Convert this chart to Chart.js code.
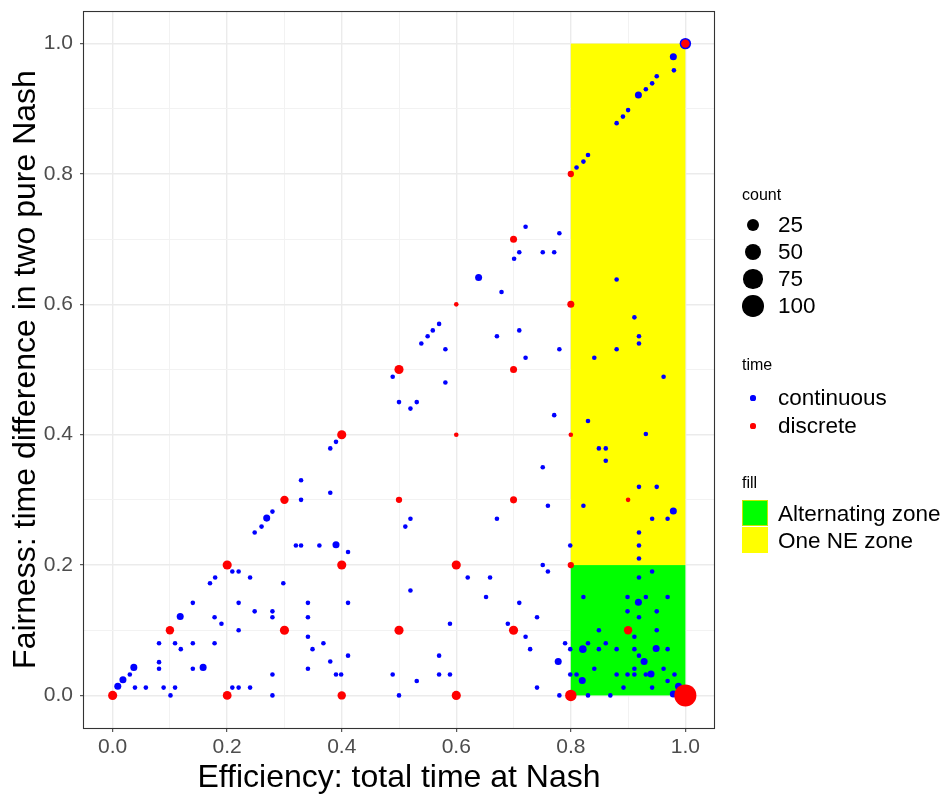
<!DOCTYPE html>
<html><head><meta charset="utf-8">
<script src="https://cdn.jsdelivr.net/npm/chart.js@4/dist/chart.umd.min.js"></script>
<style>
html,body{margin:0;padding:0;background:#fff;}
#wrap{position:relative;width:948px;height:798px;font-family:"Liberation Sans",Arial,sans-serif;overflow:hidden;}
canvas{position:absolute;left:0;top:0;}
.lg{position:absolute;white-space:nowrap;color:#000;height:30px;line-height:30px;}
.lt{font-size:16px;}
.ll{font-size:22.5px;}
.dot{position:absolute;border-radius:50%;}
.key{position:absolute;box-sizing:border-box;}
</style></head><body>
<div id="wrap"><canvas id="c" width="948" height="798"></canvas><div id="legend"></div></div>
<script>
// ---------------- data ----------------
// [efficiency, fairness, count]
const continuousPoints = [
  [0.009,0.014,3],[0.018,0.024,3],[0.030,0.032,1],[0.037,0.043,3],[0.039,0.012,1],[0.058,0.012,1],
  [0.081,0.041,1],[0.081,0.051,1],[0.081,0.080,1],[0.089,0.012,1],[0.101,0.000,1],[0.109,0.012,1],
  [0.109,0.080,1],[0.119,0.071,1],[0.118,0.121,3],[0.140,0.080,1],[0.140,0.041,1],[0.158,0.043,3],
  [0.140,0.142,1],[0.178,0.120,1],[0.178,0.080,1],[0.190,0.110,1],[0.170,0.172,1],[0.179,0.181,1],
  [0.209,0.190,1],[0.220,0.190,1],[0.240,0.181,1],[0.220,0.142,1],[0.248,0.129,1],[0.279,0.129,1],
  [0.279,0.120,1],[0.220,0.100,1],[0.209,0.012,1],[0.220,0.012,1],[0.240,0.012,1],[0.279,0.032,1],
  [0.279,0.000,1],[0.298,0.172,1],
  [0.248,0.250,1],[0.260,0.259,1],[0.269,0.272,3],[0.279,0.282,1],
  [0.320,0.230,1],[0.329,0.230,1],[0.361,0.230,1],[0.390,0.231,3],[0.411,0.220,1],[0.620,0.181,1],
  [0.652,0.151,1],[0.520,0.161,1],[0.341,0.142,1],[0.411,0.142,1],[0.341,0.120,1],[0.341,0.090,1],
  [0.368,0.080,1],[0.349,0.071,1],[0.411,0.061,1],[0.380,0.052,1],[0.341,0.041,1],[0.390,0.032,1],
  [0.399,0.032,1],[0.489,0.032,1],[0.531,0.022,1],[0.570,0.032,1],[0.589,0.032,1],[0.570,0.061,1],
  [0.589,0.110,1],[0.500,0.000,1],
  [0.570,0.570,1],[0.559,0.560,1],[0.550,0.551,1],[0.539,0.540,1],[0.581,0.531,1],[0.581,0.480,1],
  [0.489,0.489,1],[0.500,0.450,1],[0.531,0.450,1],[0.520,0.440,1],[0.390,0.389,1],[0.380,0.379,1],
  [0.329,0.330,1],[0.329,0.300,1],[0.380,0.311,1],[0.520,0.271,1],[0.511,0.259,1],
  [0.799,0.230,1],[0.919,0.230,1],[0.919,0.210,1],[0.751,0.200,1],[0.760,0.190,1],[0.659,0.181,1],
  [0.710,0.142,1],[0.741,0.120,1],[0.690,0.110,1],[0.721,0.090,1],[0.729,0.071,1],[0.778,0.052,3],
  [0.790,0.080,1],[0.741,0.012,1],[0.780,0.000,1],[0.799,0.071,1],[0.799,0.032,1],[0.810,0.032,1],
  [0.820,0.023,3],[0.821,0.071,4],[0.830,0.080,1],[0.822,0.151,1],[0.841,0.041,1],[0.849,0.100,1],
  [0.849,0.071,1],[0.861,0.080,1],[0.830,0.000,1],[0.869,0.000,1],[0.880,0.071,1],[0.880,0.032,1],
  [0.892,0.012,1],[0.899,0.032,1],[0.899,0.129,1],[0.899,0.151,1],[0.911,0.090,1],[0.911,0.071,1],
  [0.911,0.041,1],[0.911,0.032,1],[0.919,0.061,1],[0.918,0.143,3],[0.919,0.120,1],[0.919,0.181,1],
  [0.931,0.151,1],[0.928,0.052,3],[0.931,0.032,1],[0.940,0.033,3],[0.942,0.012,1],[0.942,0.190,1],
  [0.950,0.129,1],[0.950,0.100,1],[0.949,0.072,3],[0.962,0.041,1],[0.969,0.071,1],[0.969,0.151,1],
  [0.969,0.022,1],[0.981,0.032,1],[0.979,0.002,3],[0.988,0.014,3],
  [0.721,0.719,1],[0.780,0.709,1],[0.710,0.680,1],[0.751,0.680,1],[0.771,0.680,1],[0.701,0.670,1],
  [0.639,0.641,3],[0.679,0.619,1],[0.880,0.638,1],[0.911,0.580,1],[0.919,0.551,1],[0.919,0.540,1],
  [0.880,0.531,1],[0.841,0.518,1],[0.710,0.560,1],[0.671,0.551,1],[0.780,0.531,1],[0.721,0.518,1],
  [0.962,0.489,1],[0.771,0.430,1],[0.830,0.421,1],[0.931,0.401,1],[0.849,0.379,1],[0.861,0.379,1],
  [0.861,0.360,1],[0.751,0.350,1],[0.919,0.320,1],[0.950,0.320,1],[0.760,0.291,1],[0.822,0.291,1],
  [0.979,0.283,3],[0.942,0.271,1],[0.969,0.271,1],[0.671,0.271,1],[0.919,0.250,1],
  [1.000,1.000,17],[0.979,0.980,3],[0.980,0.959,1],[0.950,0.950,1],[0.942,0.939,1],[0.931,0.930,1],
  [0.918,0.921,3],[0.900,0.898,1],[0.891,0.888,1],[0.880,0.878,1],[0.830,0.829,1],[0.822,0.819,1],
  [0.810,0.810,1]
];
const discretePoints = [
  [0,0,8],[0.1,0.1,6],[0.2,0.2,8],[0.2,0,7],[0.3,0.1,8],[0.3,0.3,6],[0.4,0.4,8],[0.4,0.2,8],
  [0.4,0,6],[0.5,0.5,8],[0.5,0.3,2],[0.5,0.1,8],[0.6,0.6,1],[0.6,0.4,1],[0.6,0.2,8],[0.6,0,8],
  [0.7,0.7,3],[0.7,0.5,3],[0.7,0.3,3],[0.7,0.1,8],[0.8,0.8,2],[0.8,0.6,3],[0.8,0.4,1],[0.8,0.2,2],
  [0.8,0,17],[0.9,0.3,1],[0.9,0.1,6],[1,1,6],[1,0,105]
];
const seriesNames = ['continuous','discrete'];
const zoneNames = ['Alternating zone','One NE zone'];
const zoneXStart = [0.8, 0.8];
const zoneXEnd   = [1.0, 1.0];
const zoneYStart = [0.0, 0.2];
const zoneYEnd   = [0.2, 1.0];
const majorTicks = [0, 0.2, 0.4, 0.6, 0.8, 1.0];
const minorTicks = [0.1, 0.3, 0.5, 0.7, 0.9];
const tickLabels = ['0.0','0.2','0.4','0.6','0.8','1.0'];
const sizeBreaks = [25, 50, 75, 100];
const countRange = [1, 105];
const xTitle = 'Efficiency: total time at Nash';
const yTitle = 'Fairness: time difference in two pure Nash';

// ---------------- styles ----------------
const FONT = '"Liberation Sans", Arial, sans-serif';
const seriesColors = ['#0000FF', '#FF0000'];
const zoneColors = ['#00FF00', '#FFFF00'];
const R_MIN = 2.3, R_MAX = 11.02;
function sizeToRadius(n) {
  const t = (n - countRange[0]) / (countRange[1] - countRange[0]);
  return R_MIN + (R_MAX - R_MIN) * Math.sqrt(Math.max(0, t));
}
const gridValues = majorTicks.concat(minorTicks).sort((a,b)=>a-b);
const isMajor = v => majorTicks.some(m => Math.abs(m - v) < 1e-9);
const labelFor = v => { const i = majorTicks.findIndex(m => Math.abs(m - v) < 1e-9); return i >= 0 ? tickLabels[i] : ''; };

const gridOpts = {
  color: c => (c.tick && isMajor(c.tick.value)) ? '#EBEBEB' : '#F2F2F2',
  lineWidth: c => (c.tick && isMajor(c.tick.value)) ? 1.4 : 1,
  tickColor: c => (c.tick && isMajor(c.tick.value)) ? '#333333' : 'rgba(0,0,0,0)',
  tickWidth: 1,
  tickLength: 4,
  drawTicks: true
};

const zonePlugin = {
  id: 'zones',
  beforeDatasetsDraw(chart) {
    const {ctx, scales: {x, y}} = chart;
    ctx.save();
    zoneNames.forEach((name, i) => {
      const x0 = x.getPixelForValue(zoneXStart[i]), x1 = x.getPixelForValue(zoneXEnd[i]);
      const y0 = y.getPixelForValue(zoneYStart[i]), y1 = y.getPixelForValue(zoneYEnd[i]);
      ctx.fillStyle = zoneColors[i];
      ctx.fillRect(x0, y1, x1 - x0, y0 - y1);
    });
    ctx.restore();
  }
};
const borderPlugin = {
  id: 'panelBorder',
  afterDraw(chart) {
    const {ctx, chartArea: a} = chart;
    ctx.save();
    ctx.strokeStyle = '#333333';
    ctx.lineWidth = 1.1;
    ctx.strokeRect(a.left - 0.5, a.top + 0.5, a.right - a.left + 1, a.bottom - a.top);
    ctx.restore();
  }
};

const toData = arr => arr.map(p => ({x: p[0], y: p[1], n: p[2]}));
const noPad = s => { s.paddingTop = 0; s.paddingBottom = 0; s.paddingLeft = 0; s.paddingRight = 0; };

new Chart(document.getElementById('c'), {
  type: 'scatter',
  data: {
    datasets: [
      {label: seriesNames[0], data: toData(continuousPoints), backgroundColor: seriesColors[0], order: 1},
      {label: seriesNames[1], data: toData(discretePoints), backgroundColor: seriesColors[1], order: 0}
    ]
  },
  options: {
    responsive: false,
    animation: false,
    events: [],
    layout: {padding: {left: 0, top: 8, right: 234, bottom: 0}},
    elements: {point: {
      radius: c => sizeToRadius(c.raw ? c.raw.n : 1),
      hoverRadius: c => sizeToRadius(c.raw ? c.raw.n : 1),
      borderWidth: 0, pointStyle: 'circle'
    }},
    plugins: {legend: {display: false}, tooltip: {enabled: false}},
    scales: {
      x: {
        type: 'linear', min: -0.05, max: 1.05,
        afterBuildTicks: s => { s.ticks = gridValues.map(v => ({value: v})); },
        afterFit: s => { s.height = 70; noPad(s); },
        ticks: {autoSkip: false, maxRotation: 0, padding: 3, color: '#4D4D4D',
                font: {family: FONT, size: 21}, callback: v => labelFor(v)},
        grid: gridOpts,
        border: {display: false},
        title: {display: true, text: xTitle, color: '#000', font: {family: FONT, size: 32},
                padding: {top: 0, bottom: 1}}
      },
      y: {
        type: 'linear', min: -0.05, max: 1.05,
        afterBuildTicks: s => { s.ticks = gridValues.map(v => ({value: v})); },
        afterFit: s => { s.width = 84; noPad(s); },
        ticks: {autoSkip: false, padding: 7, color: '#4D4D4D',
                font: {family: FONT, size: 21}, callback: v => labelFor(v)},
        grid: gridOpts,
        border: {display: false},
        title: {display: true, text: yTitle, color: '#000', font: {family: FONT, size: 32},
                padding: {top: 7, bottom: 0}}
      }
    }
  },
  plugins: [zonePlugin, borderPlugin]
});

// ---------------- legend (HTML) ----------------
const lg = document.getElementById('legend');
function addText(txt, cls, left, cy) {
  const d = document.createElement('div');
  d.className = 'lg ' + cls; d.textContent = txt;
  d.style.left = left + 'px'; d.style.top = (cy - 15) + 'px';
  lg.appendChild(d);
}
function addDot(cx, cy, r, color) {
  const d = document.createElement('div');
  d.className = 'dot';
  d.style.left = (cx - r) + 'px'; d.style.top = (cy - r) + 'px';
  d.style.width = (2 * r) + 'px'; d.style.height = (2 * r) + 'px';
  d.style.background = color;
  lg.appendChild(d);
}
addText('count', 'lt', 742, 195);
const sizeRowY = [225, 252, 279, 306];
sizeBreaks.forEach((b, i) => { addDot(753, sizeRowY[i], sizeToRadius(b), '#000'); addText(String(b), 'll', 778, sizeRowY[i]); });
addText('time', 'lt', 742, 365);
const timeRowY = [398, 426];
seriesNames.forEach((s, i) => { addDot(753, timeRowY[i], 2.6, seriesColors[i]); addText(s, 'll', 778, timeRowY[i]); });
addText('fill', 'lt', 742, 483);
const keyTop = [500, 527];
const fillRowY = [514, 541];
zoneNames.forEach((z, i) => {
  const k = document.createElement('div');
  k.className = 'key';
  k.style.left = '742px'; k.style.top = keyTop[i] + 'px';
  k.style.width = '26px'; k.style.height = '26px';
  k.style.background = zoneColors[i];
  if (i === 0) k.style.border = '1px solid #C8E600';
  lg.appendChild(k);
  addText(z, 'll', 778, fillRowY[i]);
});
</script></body></html>
